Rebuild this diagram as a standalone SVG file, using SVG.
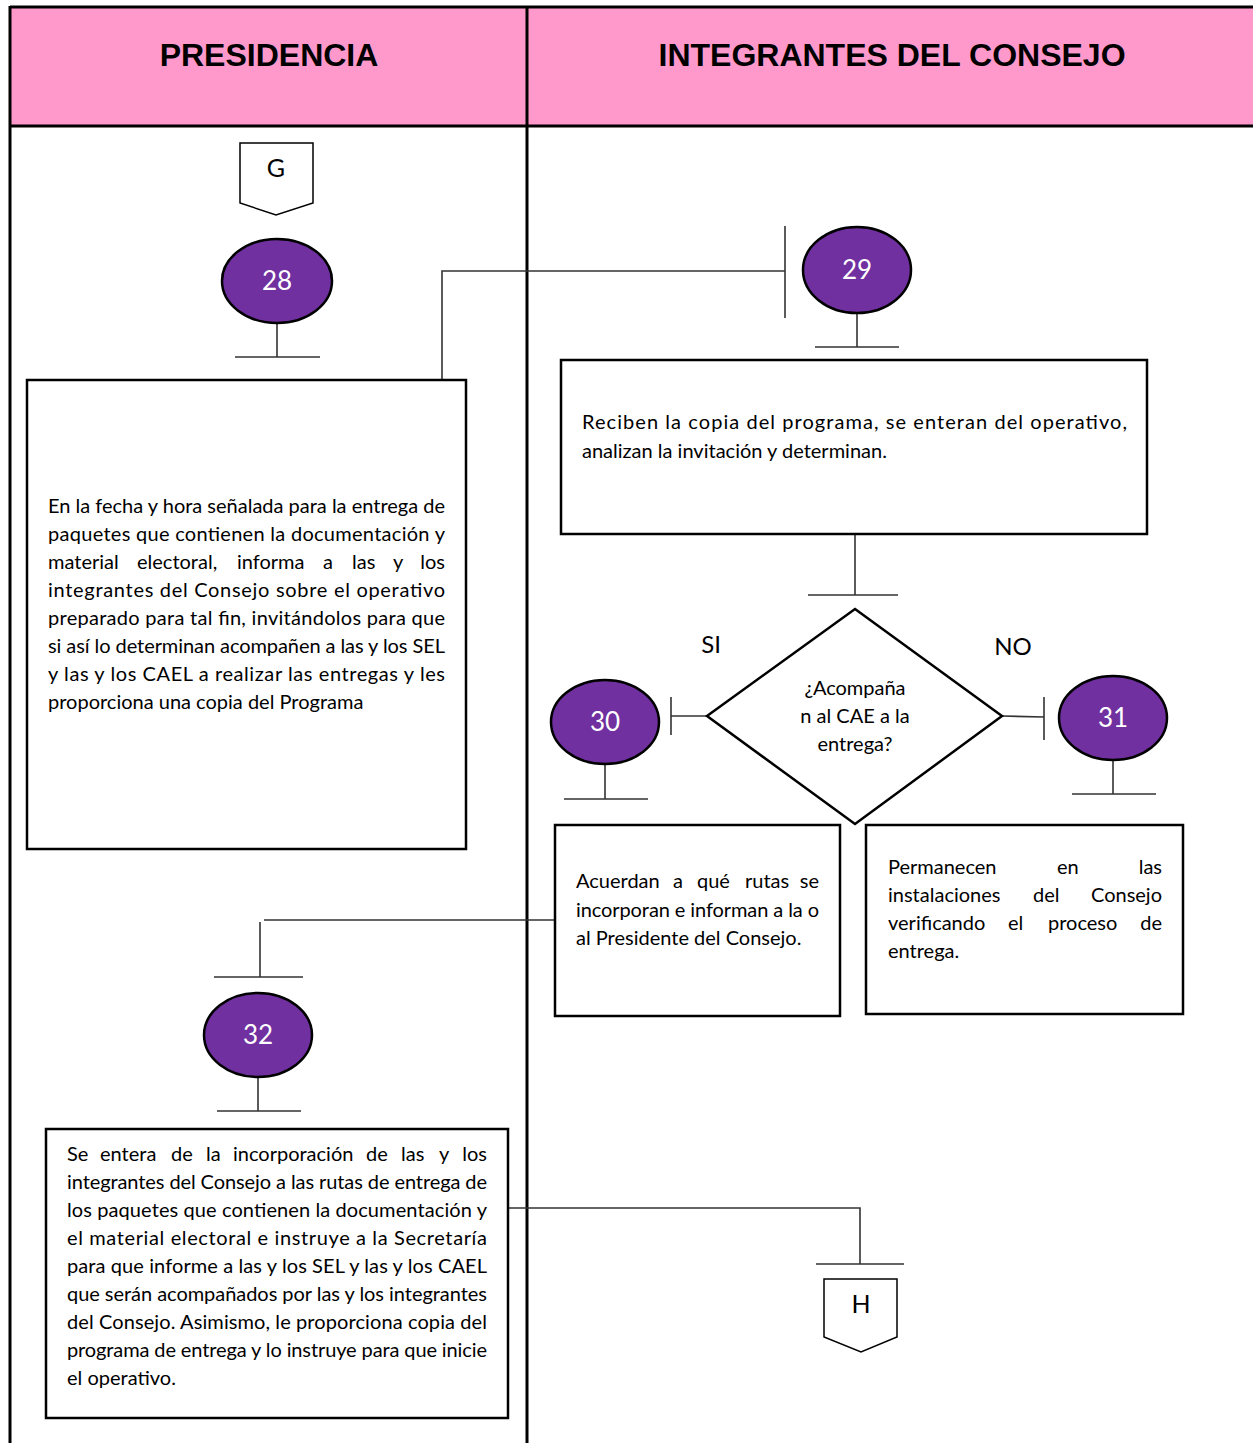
<svg xmlns="http://www.w3.org/2000/svg" width="1253" height="1443" viewBox="0 0 1253 1443">
<style>
.frame{stroke:#000;stroke-width:3;fill:none}
.box{fill:#fff;stroke:#000;stroke-width:2.5}
.circ{fill:#7030A0;stroke:#000;stroke-width:2.5}
.off{fill:#fff;stroke:#000;stroke-width:1.5}
.con{stroke:#333;stroke-width:1.6;fill:none}
.hdr{font-family:"Liberation Sans",Arial,sans-serif;font-weight:bold;font-size:32px;fill:#000;text-anchor:middle}
.t{font-family:Lato,"Noto Sans",sans-serif;font-size:20px;fill:#000}
.big{font-family:Lato,"Noto Sans",sans-serif;font-size:25px;fill:#000;text-anchor:middle}
.num{font-family:Lato,"Noto Sans",sans-serif;font-size:26px;fill:#fff;text-anchor:middle}
.lbl{font-family:Lato,"Noto Sans",sans-serif;font-size:24px;fill:#000;text-anchor:middle}
.c{text-anchor:middle}
.e{text-anchor:end}
</style>
<rect x="0" y="0" width="1253" height="1443" fill="#fff"/>
<g id="header">
<rect x="10" y="7" width="1243" height="119" fill="#FF99CC"/>
<line class="frame" x1="10" y1="7" x2="1253" y2="7"/>
<line class="frame" x1="10" y1="126" x2="1253" y2="126"/>
<line class="frame" x1="10" y1="6" x2="10" y2="1443"/>
<line class="frame" x1="527" y1="6" x2="527" y2="1443"/>
<text class="hdr" x="269" y="66">PRESIDENCIA</text>
<text class="hdr" x="892" y="66">INTEGRANTES DEL CONSEJO</text>
</g>
<g id="connectors">
<path class="con" d="M277 323 V357 M235 357 H320"/>
<path class="con" d="M442 380 V271 H785 M785 226 V318"/>
<path class="con" d="M857 313 V347 M815 347 H899"/>
<path class="con" d="M855 534 V595 M808 595 H898"/>
<path class="con" d="M707 716 H671 M671 697 V735"/>
<path class="con" d="M605 764 V799 M564 799 H648"/>
<path class="con" d="M1002 716 L1044 717 M1044 697 V740"/>
<path class="con" d="M1113 760 V794 M1072 794 H1156"/>
<path class="con" d="M555 920 H264 M260 922 V977 M214 977 H303"/>
<path class="con" d="M258 1077 V1111 M217 1111 H301"/>
<path class="con" d="M508 1208 H860 V1264 M816 1264 H904"/>
</g>
<g id="G">
<path class="off" d="M240 143 H313 V203 L276 215 L240 203 Z"/>
<text class="big" x="276" y="177">G</text>
</g>
<g id="n28">
<ellipse class="circ" cx="277" cy="281" rx="55" ry="42"/>
<text class="num" x="277" y="290">28</text>
</g>
<g id="box1">
<rect class="box" x="27" y="380" width="439" height="469"/>
<text class="t" x="48" y="513" textLength="397" lengthAdjust="spacing">En la fecha y hora señalada para la entrega de</text>
<text class="t" x="48" y="541" textLength="397" lengthAdjust="spacing">paquetes que contienen la documentación y</text>
<text class="t" y="569"><tspan x="48">material</tspan><tspan x="137">electoral,</tspan><tspan x="237">informa</tspan><tspan x="323">a</tspan><tspan x="352">las</tspan><tspan x="393">y</tspan><tspan x="445" text-anchor="end">los</tspan></text>
<text class="t" x="48" y="597" textLength="397" lengthAdjust="spacing">integrantes del Consejo sobre el operativo</text>
<text class="t" x="48" y="625" textLength="397" lengthAdjust="spacing">preparado para tal fin, invitándolos para que</text>
<text class="t" x="48" y="653" textLength="397" lengthAdjust="spacing">si así lo determinan acompañen a las y los SEL</text>
<text class="t" x="48" y="681" textLength="397" lengthAdjust="spacing">y las y los CAEL a realizar las entregas y les</text>
<text class="t" x="48" y="709">proporciona una copia del Programa</text>
</g>
<g id="n29">
<ellipse class="circ" cx="857" cy="270" rx="54" ry="43"/>
<text class="num" x="857" y="279">29</text>
</g>
<g id="box2">
<rect class="box" x="561" y="360" width="586" height="174"/>
<text class="t" x="582" y="429" textLength="545" lengthAdjust="spacing">Reciben la copia del programa, se enteran del operativo,</text>
<text class="t" x="582" y="458">analizan la invitación y determinan.</text>
</g>
<g id="decision">
<polygon class="box" points="855,609 1002,716 855,824 707,716"/>
<text class="t c" x="855" y="695">¿Acompaña</text>
<text class="t c" x="855" y="723">n al CAE a la</text>
<text class="t c" x="855" y="751">entrega?</text>
<text class="lbl" x="711" y="653">SI</text>
<text class="lbl" x="1013" y="655">NO</text>
</g>
<g id="n30">
<ellipse class="circ" cx="605" cy="722" rx="54" ry="42"/>
<text class="num" x="605" y="731">30</text>
</g>
<g id="n31">
<ellipse class="circ" cx="1113" cy="718" rx="54" ry="42"/>
<text class="num" x="1113" y="727">31</text>
</g>
<g id="box3">
<rect class="box" x="555" y="825" width="285" height="191"/>
<text class="t" y="888"><tspan x="576">Acuerdan</tspan><tspan x="673">a</tspan><tspan x="697">qué</tspan><tspan x="745">rutas</tspan><tspan x="819" text-anchor="end">se</tspan></text>
<text class="t" x="576" y="917" textLength="243" lengthAdjust="spacing">incorporan e informan a la o</text>
<text class="t" x="576" y="945">al Presidente del Consejo.</text>
</g>
<g id="box4">
<rect class="box" x="866" y="825" width="317" height="189"/>
<text class="t" y="874"><tspan x="888">Permanecen</tspan><tspan x="1057">en</tspan><tspan x="1162" text-anchor="end">las</tspan></text>
<text class="t" y="902"><tspan x="888">instalaciones</tspan><tspan x="1033">del</tspan><tspan x="1162" text-anchor="end">Consejo</tspan></text>
<text class="t" y="930"><tspan x="888">verificando</tspan><tspan x="1008">el</tspan><tspan x="1048">proceso</tspan><tspan x="1162" text-anchor="end">de</tspan></text>
<text class="t" x="888" y="958">entrega.</text>
</g>
<g id="n32">
<ellipse class="circ" cx="258" cy="1035" rx="54" ry="42"/>
<text class="num" x="258" y="1044">32</text>
</g>
<g id="box5">
<rect class="box" x="46" y="1129" width="462" height="289"/>
<text class="t" y="1161"><tspan x="67">Se</tspan><tspan x="100">entera</tspan><tspan x="171">de</tspan><tspan x="206">la</tspan><tspan x="233">incorporación</tspan><tspan x="366">de</tspan><tspan x="401">las</tspan><tspan x="439">y</tspan><tspan x="487" text-anchor="end">los</tspan></text>
<text class="t" x="67" y="1189" textLength="420" lengthAdjust="spacing">integrantes del Consejo a las rutas de entrega de</text>
<text class="t" x="67" y="1217" textLength="420" lengthAdjust="spacing">los paquetes que contienen la documentación y</text>
<text class="t" x="67" y="1245" textLength="420" lengthAdjust="spacing">el material electoral e instruye a la Secretaría</text>
<text class="t" x="67" y="1273" textLength="420" lengthAdjust="spacing">para que informe a las y los SEL y las y los CAEL</text>
<text class="t" x="67" y="1301" textLength="420" lengthAdjust="spacing">que serán acompañados por las y los integrantes</text>
<text class="t" x="67" y="1329" textLength="420" lengthAdjust="spacing">del Consejo. Asimismo, le proporciona copia del</text>
<text class="t" x="67" y="1357" textLength="420" lengthAdjust="spacing">programa de entrega y lo instruye para que inicie</text>
<text class="t" x="67" y="1385">el operativo.</text>
</g>
<g id="H">
<path class="off" d="M824 1279 H897 V1337 L861 1352 L824 1337 Z"/>
<text class="big" x="861" y="1313">H</text>
</g>
</svg>
